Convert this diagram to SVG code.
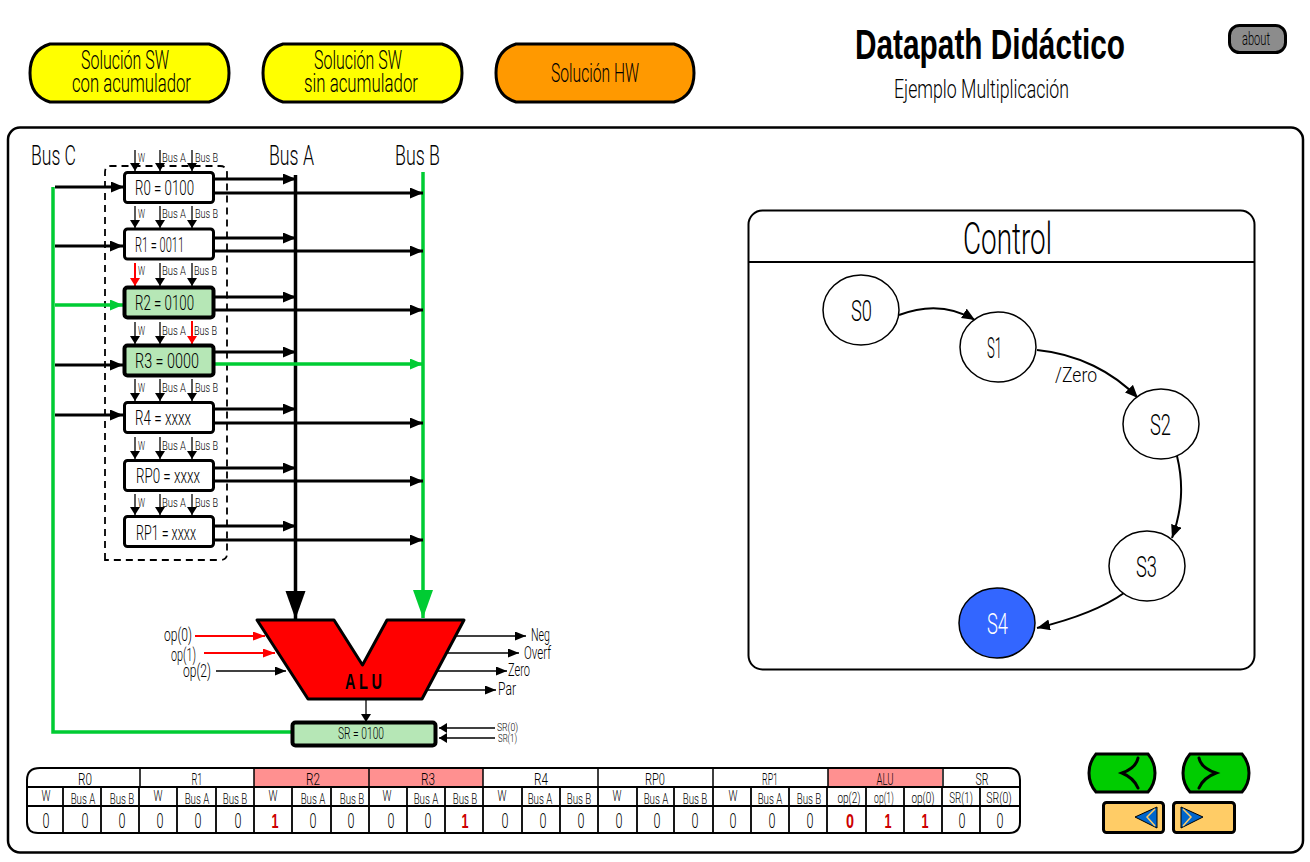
<svg xmlns="http://www.w3.org/2000/svg" width="1310" height="862" viewBox="0 0 1310 862">
<defs>
<marker id="ab" markerUnits="userSpaceOnUse" markerWidth="14" markerHeight="12" refX="13" refY="5.500" orient="auto"><path d="M0,0L13,5.500L0,11Z" fill="#000"/></marker>
<marker id="ag" markerUnits="userSpaceOnUse" markerWidth="14" markerHeight="12" refX="13" refY="5.500" orient="auto"><path d="M0,0L13,5.500L0,11Z" fill="#00cc33"/></marker>
<marker id="ar" markerUnits="userSpaceOnUse" markerWidth="14" markerHeight="12" refX="12" refY="4.500" orient="auto"><path d="M0,0L12,4.500L0,9Z" fill="#f00"/></marker>
<marker id="as" markerUnits="userSpaceOnUse" markerWidth="10" markerHeight="12" refX="8" refY="5" orient="auto"><path d="M0,0L8,5L0,10Z" fill="#000"/></marker>
<marker id="am" markerUnits="userSpaceOnUse" markerWidth="14" markerHeight="12" refX="11" refY="4.500" orient="auto"><path d="M0,0L11,4.500L0,9Z" fill="#000"/></marker>
<marker id="asr" markerUnits="userSpaceOnUse" markerWidth="10" markerHeight="12" refX="8" refY="5" orient="auto"><path d="M0,0L8,5L0,10Z" fill="#f00"/></marker>
<marker id="abig" markerUnits="userSpaceOnUse" markerWidth="30" markerHeight="22" refX="28" refY="10" orient="auto"><path d="M0,0L28,10L0,20Z" fill="#000"/></marker>
<marker id="agbig" markerUnits="userSpaceOnUse" markerWidth="30" markerHeight="22" refX="28" refY="10" orient="auto"><path d="M0,0L28,10L0,20Z" fill="#00cc33"/></marker>
</defs>
<style>
text{font-family:"Roboto","Liberation Sans",sans-serif;font-weight:300;fill:#000}
.b{font-family:"Liberation Sans",sans-serif;font-weight:700}
.n{fill:none;stroke:#000}
.c{fill:none;stroke:#000;stroke-width:1.300;marker-end:url(#as)}
.cr{fill:none;stroke:#f00;stroke-width:2;marker-end:url(#asr)}
.o{fill:none;stroke:#000;stroke-width:3;marker-end:url(#ab)}
.og{fill:none;stroke:#00cc33;stroke-width:3.500;marker-end:url(#ag)}
.t{fill:none;stroke:#000;stroke-width:2;marker-end:url(#ab)}
.l{fill:none;stroke:#000;stroke-width:1.300;marker-end:url(#am)}
.reg{fill:#fff;stroke:#000;stroke-width:3}
.act{fill:#b6e7b6;stroke:#000;stroke-width:4}
.st{fill:#fff;stroke:#000;stroke-width:1.500}
.vr{fill:#cc0000}
</style>
<rect width="1310" height="862" fill="#fff"/>

<g id="btn-sw-con"><path d="M50,44H209Q229,50 229,73Q229,96 209,102H50Q30,96 30,73Q30,50 50,44Z" fill="#ff0" stroke="#000" stroke-width="3"/>
<text x="81" y="69" font-size="25" textLength="88" lengthAdjust="spacingAndGlyphs">Solución SW</text><text x="72" y="92" font-size="25" textLength="119" lengthAdjust="spacingAndGlyphs">con acumulador</text></g>
<g id="btn-sw-sin"><path d="M283,44H442Q462,50 462,73Q462,96 442,102H283Q263,96 263,73Q263,50 283,44Z" fill="#ff0" stroke="#000" stroke-width="3"/>
<text x="314" y="69" font-size="25" textLength="88" lengthAdjust="spacingAndGlyphs">Solución SW</text><text x="304" y="92" font-size="25" textLength="114" lengthAdjust="spacingAndGlyphs">sin acumulador</text></g>
<g id="btn-hw"><path d="M516,44H674Q694,50 694,73Q694,96 674,102H516Q496,96 496,73Q496,50 516,44Z" fill="#f90" stroke="#000" stroke-width="3"/>
<text x="551" y="82" font-size="25" textLength="88" lengthAdjust="spacingAndGlyphs">Solución HW</text></g>

<g id="title"><text class="b" x="855" y="59" font-size="42" textLength="270" lengthAdjust="spacingAndGlyphs">Datapath Didáctico</text>
<text x="894" y="98" font-size="25" textLength="175" lengthAdjust="spacingAndGlyphs">Ejemplo Multiplicación</text></g>
<g id="about"><rect x="1229.500" y="25.500" width="56" height="27" rx="10" fill="#8c8c8c" stroke="#000" stroke-width="3"/>
<text x="1242" y="45" font-size="19" textLength="28" lengthAdjust="spacingAndGlyphs">about</text></g>

<rect id="frame" x="8" y="127.500" width="1295" height="725" rx="12" fill="#fff" stroke="#000" stroke-width="2.500"/>

<g id="bus-labels">
<text x="31" y="165" font-size="28" textLength="45" lengthAdjust="spacingAndGlyphs">Bus C</text>
<text x="269" y="165" font-size="28" textLength="45" lengthAdjust="spacingAndGlyphs">Bus A</text>
<text x="395" y="165" font-size="28" textLength="45" lengthAdjust="spacingAndGlyphs">Bus B</text>
</g>

<path id="reg-bank" d="M105,560V172Q105,166 111,166H220Q227,166 227,173V554Q227,560 220,560Z" fill="none" stroke="#000" stroke-width="1.800" stroke-dasharray="7 5"/>

<g id="control"><rect x="748.500" y="210.500" width="506" height="459" rx="14" fill="#fff" stroke="#000" stroke-width="2"/><path d="M749,262H1254" class="n" stroke-width="2"/>
<text x="963" y="254" font-size="45" textLength="89" lengthAdjust="spacingAndGlyphs">Control</text></g>

<g id="connectors">
<path d="M295.500,175V619" fill="none" stroke="#000" stroke-width="3.500" marker-end="url(#abig)"/>
<path d="M423,172V618" fill="none" stroke="#00cc33" stroke-width="3.500" marker-end="url(#agbig)"/>
<path d="M53,187V732H292" fill="none" stroke="#00cc33" stroke-width="3.500"/>

<path class="o" d="M55,187H124"/><path class="o" d="M55,246H123"/><path class="og" d="M55,305H123"/><path class="o" d="M55,365H123"/><path class="o" d="M55,415H123"/>

<path class="o" d="M213,179H296"/><path class="o" d="M213,193H423"/>
<path class="o" d="M213,238H296"/><path class="o" d="M213,251H423"/>
<path class="o" d="M213,297H296"/><path class="o" d="M213,310H423"/>
<path class="o" d="M213,352H296"/><path class="og" d="M213,364H423"/>
<path class="o" d="M213,409H296"/><path class="o" d="M213,423H423"/>
<path class="o" d="M213,468H296"/><path class="o" d="M213,481H423"/>
<path class="o" d="M213,526H296"/><path class="o" d="M213,540H423"/>

<path class="c" d="M135,150V171"/><path class="c" d="M160,150V171"/><path class="c" d="M192,150V171"/>
<path class="c" d="M135,206V228"/><path class="c" d="M160,206V228"/><path class="c" d="M192,206V228"/>
<path class="cr" d="M135,263V286"/><path class="c" d="M160,263V286"/><path class="c" d="M192,263V286"/>
<path class="c" d="M135,322V344"/><path class="c" d="M160,322V344"/><path class="cr" d="M192,321V344"/>
<path class="c" d="M135,379V401"/><path class="c" d="M160,379V401"/><path class="c" d="M192,379V401"/>
<path class="c" d="M135,437V459"/><path class="c" d="M160,437V459"/><path class="c" d="M192,437V459"/>
<path class="c" d="M135,494V515"/><path class="c" d="M160,494V515"/><path class="c" d="M192,494V515"/>

<path d="M195,636H265" fill="none" stroke="#f00" stroke-width="2" marker-end="url(#ar)"/>
<path d="M204,653H275" fill="none" stroke="#f00" stroke-width="2" marker-end="url(#ar)"/>
<path class="l" d="M216,671H286"/>
<path class="l" d="M455,636H526"/>
<path class="l" d="M446,653H519"/>
<path class="l" d="M437,671H507"/>
<path class="l" d="M425,690H496"/>
<path class="c" d="M366,700V722"/>
<path class="c" d="M495,728H439"/>
<path class="c" d="M495,738H439"/>

<path class="t" d="M899,315C925,305 950,305 975,320"/>
<path class="t" d="M1037,350C1078,354 1113,372 1138,398"/>
<path class="t" d="M1177,456C1184,485 1182,510 1172,538"/>
<path class="t" d="M1124,593C1100,610 1070,620 1037,628"/>
</g>

<g id="R0"><rect class="reg" x="124.500" y="172.500" width="89" height="30" rx="3"/><text x="135" y="195" font-size="21" textLength="59" lengthAdjust="spacingAndGlyphs">R0 = 0100</text></g>
<g id="R1"><rect class="reg" x="124.500" y="229" width="89" height="30" rx="3"/><text x="135" y="252" font-size="21" textLength="49" lengthAdjust="spacingAndGlyphs">R1 = 0011</text></g>
<g id="R2"><rect class="act" x="124.500" y="287.500" width="89" height="30" rx="3"/><text x="135" y="310" font-size="21" textLength="59" lengthAdjust="spacingAndGlyphs">R2 = 0100</text></g>
<g id="R3"><rect class="act" x="124.500" y="345.500" width="89" height="30" rx="3"/><text x="135" y="368" font-size="21" textLength="64" lengthAdjust="spacingAndGlyphs">R3 = 0000</text></g>
<g id="R4"><rect class="reg" x="124.500" y="402.500" width="89" height="30" rx="3"/><text x="135" y="425" font-size="21" textLength="56" lengthAdjust="spacingAndGlyphs">R4 = xxxx</text></g>
<g id="RP0"><rect class="reg" x="124.500" y="460.500" width="89" height="30" rx="3"/><text x="136" y="483" font-size="21" textLength="64" lengthAdjust="spacingAndGlyphs">RP0 = xxxx</text></g>
<g id="RP1"><rect class="reg" x="124.500" y="516.500" width="89" height="30" rx="3"/><text x="136" y="540" font-size="21" textLength="60" lengthAdjust="spacingAndGlyphs">RP1 = xxxx</text></g>

<g id="reg-ctrl-labels" font-size="13.500">
<text x="138" y="162" textLength="7" lengthAdjust="spacingAndGlyphs">W</text><text x="162" y="162" textLength="24" lengthAdjust="spacingAndGlyphs">Bus A</text><text x="195" y="162" textLength="23" lengthAdjust="spacingAndGlyphs">Bus B</text>
<text x="138" y="218" textLength="7" lengthAdjust="spacingAndGlyphs">W</text><text x="162" y="218" textLength="24" lengthAdjust="spacingAndGlyphs">Bus A</text><text x="195" y="218" textLength="23" lengthAdjust="spacingAndGlyphs">Bus B</text>
<text x="138" y="275" textLength="7" lengthAdjust="spacingAndGlyphs">W</text><text x="162" y="275" textLength="24" lengthAdjust="spacingAndGlyphs">Bus A</text><text x="194" y="275" textLength="23" lengthAdjust="spacingAndGlyphs">Bus B</text>
<text x="138" y="335" textLength="7" lengthAdjust="spacingAndGlyphs">W</text><text x="162" y="335" textLength="24" lengthAdjust="spacingAndGlyphs">Bus A</text><text x="194" y="335" textLength="23" lengthAdjust="spacingAndGlyphs">Bus B</text>
<text x="138" y="392" textLength="7" lengthAdjust="spacingAndGlyphs">W</text><text x="162" y="392" textLength="24" lengthAdjust="spacingAndGlyphs">Bus A</text><text x="195" y="392" textLength="23" lengthAdjust="spacingAndGlyphs">Bus B</text>
<text x="138" y="450" textLength="7" lengthAdjust="spacingAndGlyphs">W</text><text x="162" y="450" textLength="24" lengthAdjust="spacingAndGlyphs">Bus A</text><text x="195" y="450" textLength="23" lengthAdjust="spacingAndGlyphs">Bus B</text>
<text x="138" y="507" textLength="7" lengthAdjust="spacingAndGlyphs">W</text><text x="162" y="507" textLength="24" lengthAdjust="spacingAndGlyphs">Bus A</text><text x="195" y="507" textLength="23" lengthAdjust="spacingAndGlyphs">Bus B</text>
</g>

<g id="ALU"><path d="M257,620H334L362.500,665L387,620H464L422,699H308Z" fill="#f00" stroke="#000" stroke-width="3" stroke-linejoin="round"/>
<text class="b" x="345" y="689" font-size="22" textLength="37" lengthAdjust="spacingAndGlyphs">A L U</text></g>
<g id="alu-labels" font-size="18">
<text x="164" y="641" textLength="28" lengthAdjust="spacingAndGlyphs">op(0)</text>
<text x="171" y="661" textLength="25" lengthAdjust="spacingAndGlyphs">op(1)</text>
<text x="183" y="677" textLength="28" lengthAdjust="spacingAndGlyphs">op(2)</text>
<text x="531" y="641" textLength="19" lengthAdjust="spacingAndGlyphs">Neg</text>
<text x="524" y="659" textLength="27" lengthAdjust="spacingAndGlyphs">Overf</text>
<text x="508" y="676" textLength="22" lengthAdjust="spacingAndGlyphs">Zero</text>
<text x="498" y="695" textLength="18" lengthAdjust="spacingAndGlyphs">Par</text>
<text x="497" y="731" font-size="11" textLength="21" lengthAdjust="spacingAndGlyphs">SR(0)</text>
<text x="498" y="742" font-size="11" textLength="19" lengthAdjust="spacingAndGlyphs">SR(1)</text>
</g>
<g id="SR"><rect x="292.500" y="722.500" width="143" height="23" rx="3" fill="#b6e7b6" stroke="#000" stroke-width="4"/><text x="338" y="739" font-size="16" textLength="46" lengthAdjust="spacingAndGlyphs">SR = 0100</text></g>

<g id="S0"><ellipse class="st" cx="861" cy="310" rx="38" ry="35"/><text x="851" y="321" font-size="30" textLength="21" lengthAdjust="spacingAndGlyphs">S0</text></g>
<g id="S1"><ellipse class="st" cx="998" cy="347" rx="38" ry="35"/><text x="987" y="358" font-size="30" textLength="15" lengthAdjust="spacingAndGlyphs">S1</text></g>
<g id="S2"><ellipse class="st" cx="1161" cy="424" rx="38" ry="35"/><text x="1150" y="435" font-size="30" textLength="21" lengthAdjust="spacingAndGlyphs">S2</text></g>
<g id="S3"><ellipse class="st" cx="1147" cy="566" rx="38" ry="35"/><text x="1136" y="577" font-size="30" textLength="21" lengthAdjust="spacingAndGlyphs">S3</text></g>
<g id="S4"><ellipse class="st" cx="997" cy="623" rx="38" ry="35" style="fill:#3366ff"/><text x="987" y="634" font-size="30" textLength="21" lengthAdjust="spacingAndGlyphs" style="fill:#fff">S4</text></g>
<text id="lbl-zero" x="1055" y="382" font-size="21" textLength="42" lengthAdjust="spacingAndGlyphs">/Zero</text>

<g id="table">
<rect x="254" y="768" width="115" height="19" fill="#ff9090"/><rect x="369" y="768" width="114" height="19" fill="#ff9090"/><rect x="828" y="768" width="114" height="19" fill="#ff9090"/>
<g font-size="17" text-anchor="middle">
<text x="85" y="785" textLength="14" lengthAdjust="spacingAndGlyphs">R0</text><text x="197" y="785" textLength="11" lengthAdjust="spacingAndGlyphs">R1</text><text x="313" y="785" textLength="14" lengthAdjust="spacingAndGlyphs">R2</text><text x="428" y="785" textLength="14" lengthAdjust="spacingAndGlyphs">R3</text><text x="541" y="785" textLength="14" lengthAdjust="spacingAndGlyphs">R4</text><text x="655" y="785" textLength="20" lengthAdjust="spacingAndGlyphs">RP0</text><text x="770" y="785" textLength="16" lengthAdjust="spacingAndGlyphs">RP1</text><text x="885" y="785" textLength="17" lengthAdjust="spacingAndGlyphs">ALU</text><text x="982" y="785" textLength="13" lengthAdjust="spacingAndGlyphs">SR</text>
</g>
<g font-size="15" text-anchor="middle">
<text x="46" y="801" font-size="14" textLength="9" lengthAdjust="spacingAndGlyphs">W</text><text transform="translate(83,804) scale(.65,1)">Bus A</text><text transform="translate(122,804) scale(.65,1)">Bus B</text>
<text x="158" y="801" font-size="14" textLength="9" lengthAdjust="spacingAndGlyphs">W</text><text transform="translate(197,804) scale(.65,1)">Bus A</text><text transform="translate(235,804) scale(.65,1)">Bus B</text>
<text x="273" y="801" font-size="14" textLength="9" lengthAdjust="spacingAndGlyphs">W</text><text transform="translate(313,804) scale(.65,1)">Bus A</text><text transform="translate(352,804) scale(.65,1)">Bus B</text>
<text x="387" y="801" font-size="14" textLength="9" lengthAdjust="spacingAndGlyphs">W</text><text transform="translate(426,804) scale(.65,1)">Bus A</text><text transform="translate(465,804) scale(.65,1)">Bus B</text>
<text x="502" y="801" font-size="14" textLength="9" lengthAdjust="spacingAndGlyphs">W</text><text transform="translate(540,804) scale(.65,1)">Bus A</text><text transform="translate(579,804) scale(.65,1)">Bus B</text>
<text x="617" y="801" font-size="14" textLength="9" lengthAdjust="spacingAndGlyphs">W</text><text transform="translate(656,804) scale(.65,1)">Bus A</text><text transform="translate(695,804) scale(.65,1)">Bus B</text>
<text x="733" y="801" font-size="14" textLength="9" lengthAdjust="spacingAndGlyphs">W</text><text transform="translate(770,804) scale(.65,1)">Bus A</text><text transform="translate(809,804) scale(.65,1)">Bus B</text>
<text transform="translate(849,803) scale(.67,1)">op(2)</text><text transform="translate(884,803) scale(.57,1)">op(1)</text><text transform="translate(923,803) scale(.67,1)">op(0)</text>
<text transform="translate(961,803) scale(.65,1)">SR(1)</text><text transform="translate(999,803) scale(.7,1)">SR(0)</text>
</g>
<path d="M40,768H1008Q1020,768 1020,780V822Q1020,833 1009,833H38Q27,833 27,822V780Q27,768 40,768Z" fill="none" stroke="#000" stroke-width="2"/>
<path d="M27,787H1020M27,806H1020" fill="none" stroke="#000" stroke-width="2"/>
<path d="M140,768V787M254,768V787M369,768V787M483,768V787M598,768V787M713,768V787M828,768V787M943,768V787" fill="none" stroke="#000" stroke-width="1.500"/>
<path d="M63,787V833M101,787V833M139,787V833M177,787V833M216,787V833M254,787V833M292,787V833M331,787V833M369,787V833M407,787V833M445,787V833M483,787V833M522,787V833M560,787V833M598,787V833M637,787V833M674,787V833M713,787V833M751,787V833M789,787V833M827,787V833M866,787V833M904,787V833M942,787V833M980,787V833" fill="none" stroke="#000" stroke-width="1.800"/>
<g font-size="20" text-anchor="middle">
<text x="46" y="828" textLength="7" lengthAdjust="spacingAndGlyphs">0</text><text x="85" y="828" textLength="7" lengthAdjust="spacingAndGlyphs">0</text><text x="122" y="828" textLength="7" lengthAdjust="spacingAndGlyphs">0</text><text x="160" y="828" textLength="7" lengthAdjust="spacingAndGlyphs">0</text><text x="198" y="828" textLength="7" lengthAdjust="spacingAndGlyphs">0</text><text x="238" y="828" textLength="7" lengthAdjust="spacingAndGlyphs">0</text>
<text class="b vr" x="275" y="828" textLength="7" lengthAdjust="spacingAndGlyphs">1</text><text x="313" y="828" textLength="7" lengthAdjust="spacingAndGlyphs">0</text><text x="351" y="828" textLength="7" lengthAdjust="spacingAndGlyphs">0</text><text x="391" y="828" textLength="7" lengthAdjust="spacingAndGlyphs">0</text><text x="428" y="828" textLength="7" lengthAdjust="spacingAndGlyphs">0</text>
<text class="b vr" x="465" y="828" textLength="7" lengthAdjust="spacingAndGlyphs">1</text><text x="505" y="828" textLength="7" lengthAdjust="spacingAndGlyphs">0</text><text x="543" y="828" textLength="7" lengthAdjust="spacingAndGlyphs">0</text><text x="581" y="828" textLength="7" lengthAdjust="spacingAndGlyphs">0</text><text x="619" y="828" textLength="7" lengthAdjust="spacingAndGlyphs">0</text><text x="657" y="828" textLength="7" lengthAdjust="spacingAndGlyphs">0</text><text x="695" y="828" textLength="7" lengthAdjust="spacingAndGlyphs">0</text><text x="733" y="828" textLength="7" lengthAdjust="spacingAndGlyphs">0</text><text x="772" y="828" textLength="7" lengthAdjust="spacingAndGlyphs">0</text><text x="810" y="828" textLength="7" lengthAdjust="spacingAndGlyphs">0</text>
<text class="b vr" x="850" y="828" textLength="8" lengthAdjust="spacingAndGlyphs">0</text><text class="b vr" x="888" y="828" textLength="7" lengthAdjust="spacingAndGlyphs">1</text><text class="b vr" x="925" y="828" textLength="7" lengthAdjust="spacingAndGlyphs">1</text><text x="962" y="828" textLength="7" lengthAdjust="spacingAndGlyphs">0</text><text x="1000" y="828" textLength="7" lengthAdjust="spacingAndGlyphs">0</text>
</g>
</g>

<g id="nav-prev"><path d="M1096,754H1148Q1155,762 1155,773Q1155,784 1148,792H1096Q1089,784 1089,773Q1089,762 1096,754Z" fill="#0c0" stroke="#000" stroke-width="3"/><path d="M1138,758Q1136,768 1122,773Q1134,778 1138,788" fill="none" stroke="#000" stroke-width="3" stroke-linecap="round"/></g>
<g id="nav-next"><path d="M1190,754H1242Q1249,762 1249,773Q1249,784 1242,792H1190Q1183,784 1183,773Q1183,762 1190,754Z" fill="#0c0" stroke="#000" stroke-width="3"/><path d="M1199,758Q1201,768 1216,773Q1203,778 1199,788" fill="none" stroke="#000" stroke-width="3" stroke-linecap="round"/></g>
<g id="nav-back"><rect x="1103.500" y="802.500" width="60" height="30" rx="3" fill="#fc6" stroke="#000" stroke-width="3"/><path d="M1135,817L1157,807V828Z" fill="#06c" stroke="#000" stroke-width="1"/><path d="M1155,809L1147,817L1155,826" fill="none" stroke="#fc6" stroke-width="1.500"/></g>
<g id="nav-fwd"><rect x="1173.500" y="802.500" width="61" height="30" rx="3" fill="#fc6" stroke="#000" stroke-width="3"/><path d="M1203,817L1181,807V828Z" fill="#06c" stroke="#000" stroke-width="1"/><path d="M1183,809L1191,817L1183,826" fill="none" stroke="#fc6" stroke-width="1.500"/></g>
</svg>
